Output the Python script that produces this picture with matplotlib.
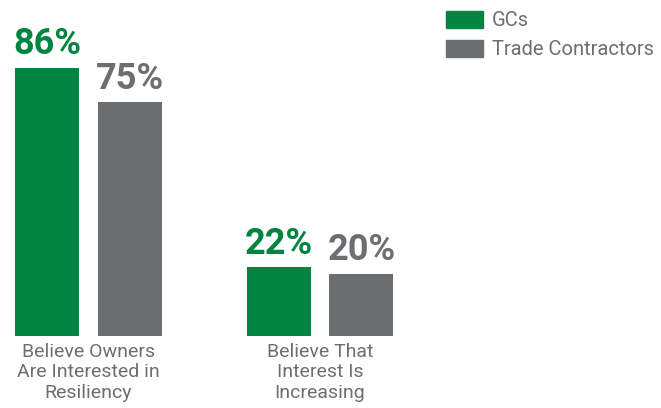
import numpy as np
import matplotlib.pyplot as plt
from matplotlib.patches import Patch

plt.rcParams['font.family'] = ['Roboto', 'DejaVu Sans']

categories = ['Believe Owners\nAre Interested in\nResiliency', 'Believe That\nInterest Is\nIncreasing']
series_names = ['GCs', 'Trade Contractors']
gcs = [86, 22]
trade = [75, 20]

green = '#00843f'
gray = '#6d6e71'

fig = plt.figure(figsize=(6.61, 4.08), dpi=100)
ax = fig.add_axes([0, 72 / 408, 1, (408 - 24.4) / 408 - 72 / 408])

x = np.arange(len(categories))
w = 0.2765
off = 0.179
b1 = ax.bar(x - off, gcs, w, color=green)
b2 = ax.bar(x + off, trade, w, color=gray)

# value labels on top of each bar
for bars, vals, c in [(b1, gcs, green), (b2, trade, gray)]:
    for bar, v in zip(bars, vals):
        ax.annotate(f'{v}%', (bar.get_x() + bar.get_width() / 2, v),
                    xytext=(0, 4), textcoords='offset points',
                    ha='center', va='bottom', fontsize=26, fontweight='bold', color=c)

ax.set_xlim(-0.382, 2.473)
ax.set_ylim(0, 100)
ax.set_xticks(x)
ax.set_xticklabels(categories, fontsize=14, color=gray, linespacing=1.17)
ax.tick_params(axis='x', length=0, pad=5)
ax.set_yticks([])
for s in ax.spines.values():
    s.set_visible(False)

handles = [Patch(color=green), Patch(color=gray)]
leg = fig.legend(handles, series_names, loc='upper left',
                 bbox_to_anchor=(446 / 661, 1 - 11 / 408), frameon=False,
                 fontsize=14.5, handlelength=1.86, handleheight=0.93,
                 handletextpad=0.4, labelspacing=0.45, borderpad=0, borderaxespad=0)
for t in leg.get_texts():
    t.set_color(gray)

fig.savefig('out.png', dpi=100)
